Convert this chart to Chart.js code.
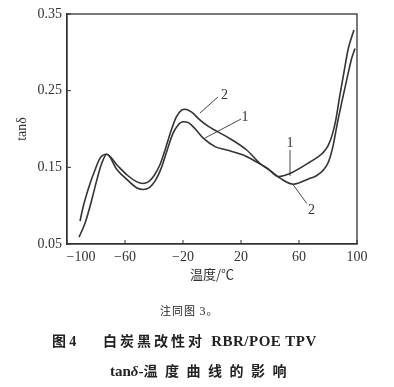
<!DOCTYPE html>
<html>
<head>
<meta charset="utf-8">
<script src="https://cdn.jsdelivr.net/npm/chart.js@4/dist/chart.umd.min.js"></script>
<style>
  html, body { margin: 0; padding: 0; background: #fff; }
  #wrap { position: relative; width: 394px; height: 387px; overflow: hidden; }
  #c { position: absolute; left: 0; top: 0; }
  .cap { position: absolute; white-space: nowrap; color: #222; line-height: 1; }
  .cjk { font-family: "Noto Sans CJK SC", sans-serif; }
  .ser { font-family: "Liberation Serif", "DejaVu Serif", serif; }
</style>
</head>
<body>
<div id="wrap">
  <canvas id="c" width="394" height="387"></canvas>
  <div class="cap cjk" style="left:160px;top:305px;font-size:11px;letter-spacing:1px;">注同图 <span class="ser" style="font-size:12px">3</span>。</div>
  <div class="cap cjk" style="left:52px;top:333px;font-size:14px;font-weight:bold;">图 <span class="ser">4</span></div>
  <div class="cap cjk" style="left:103px;top:333px;font-size:14px;font-weight:bold;letter-spacing:3px;">白炭黑改性对 <span class="ser" style="font-size:15px;letter-spacing:0.5px;">RBR/POE TPV</span></div>
  <div class="cap cjk" style="left:110px;top:363px;font-size:14px;font-weight:bold;letter-spacing:7.5px;"><span class="ser" style="font-size:15px;letter-spacing:0">tan<i>δ</i>-</span>温度曲线的影响</div>
</div>
<script>
// ---- data ----
const temp1 = [-91.7, -87.6, -83.0, -79.5, -76.1, -72.6, -65.5, -58.6, -51.7, -47.4, -43.0, -39.0, -35.0, -31.0, -27.0, -23.5, -20.0, -16.0, -12.0, -6.0, 2.1, 10.1, 21.6, 30.8, 38.0, 45.7, 53.8, 67.6, 76.0, 80.0, 83.0, 85.5, 88.0, 91.0, 94.0, 97.9];
const tan1  = [0.059, 0.077, 0.107, 0.133, 0.155, 0.167, 0.147, 0.134, 0.123, 0.121, 0.124, 0.133, 0.149, 0.172, 0.194, 0.205, 0.2095, 0.208, 0.201, 0.188, 0.177, 0.1726, 0.166, 0.157, 0.149, 0.138, 0.142, 0.157, 0.168, 0.178, 0.193, 0.213, 0.242, 0.274, 0.305, 0.329];
const temp2 = [-91.0, -88.8, -84.1, -80.7, -77.2, -72.6, -65.5, -58.6, -51.7, -47.8, -44.0, -40.0, -36.0, -32.0, -28.0, -24.5, -21.0, -18.6, -14.0, -9.0, -3.0, 10.1, 23.9, 33.1, 40.0, 46.9, 56.1, 67.6, 72.0, 77.0, 80.5, 83.5, 86.4, 89.4, 92.9, 96.3, 98.6];
const tan2  = [0.080, 0.099, 0.129, 0.1465, 0.162, 0.167, 0.153, 0.140, 0.131, 0.129, 0.131, 0.139, 0.153, 0.175, 0.199, 0.216, 0.2245, 0.2257, 0.222, 0.213, 0.204, 0.190, 0.1726, 0.155, 0.146, 0.136, 0.128, 0.1357, 0.139, 0.147, 0.158, 0.178, 0.207, 0.234, 0.264, 0.292, 0.305];
const xTicks = [-100, -60, -20, 20, 60, 100];
const yTicks = [0.05, 0.15, 0.25, 0.35];
const seriesLabels = ["1", "2"];

const toPts = (xs, ys) => xs.map((x, i) => ({ x: x, y: ys[i] }));
const ink = '#333';
const serif = '"Liberation Serif", "DejaVu Serif", serif';

// frame, inward ticks and curve labels with leader lines
const extras = {
  id: 'extras',
  afterDatasetsDraw(chart) {
    const { ctx, chartArea: a, scales: { x, y } } = chart;
    ctx.save();
    ctx.strokeStyle = ink;
    ctx.lineWidth = 1.3;
    ctx.strokeRect(a.left, a.top, a.right - a.left, a.bottom - a.top);
    ctx.lineWidth = 1;
    ctx.beginPath();
    yTicks.forEach(v => { const py = y.getPixelForValue(v); ctx.moveTo(a.left, py); ctx.lineTo(a.left + 4, py); });
    xTicks.forEach(v => { const px = x.getPixelForValue(v); ctx.moveTo(px, a.bottom); ctx.lineTo(px, a.bottom - 4); });
    ctx.stroke();
    // leader lines (data coordinates)
    const leaders = [
      [4.1, 0.2417, -8.3, 0.2209],
      [20.0, 0.213, -4.8, 0.1883],
      [53.8, 0.1726, 53.8, 0.1387],
      [56.1, 0.127, 65.3, 0.103]
    ];
    ctx.lineWidth = 0.9;
    ctx.beginPath();
    leaders.forEach(l => {
      ctx.moveTo(x.getPixelForValue(l[0]), y.getPixelForValue(l[1]));
      ctx.lineTo(x.getPixelForValue(l[2]), y.getPixelForValue(l[3]));
    });
    ctx.stroke();
    const tags = [
      [seriesLabels[1], 8.6, 0.244],
      [seriesLabels[0], 22.8, 0.2157],
      [seriesLabels[0], 53.8, 0.1812],
      [seriesLabels[1], 68.6, 0.0944]
    ];
    ctx.fillStyle = ink;
    ctx.font = '14px ' + serif;
    ctx.textAlign = 'center';
    ctx.textBaseline = 'middle';
    tags.forEach(t => ctx.fillText(t[0], x.getPixelForValue(t[1]), y.getPixelForValue(t[2])));
    ctx.restore();
  }
};

new Chart(document.getElementById('c'), {
  type: 'line',
  data: {
    datasets: [
      { label: seriesLabels[0], data: toPts(temp1, tan1) },
      { label: seriesLabels[1], data: toPts(temp2, tan2) }
    ]
  },
  options: {
    responsive: false,
    animation: false,
    devicePixelRatio: 1,
    layout: { padding: { left: 0, right: 37, top: 14, bottom: 105 } },
    elements: {
      point: { radius: 0 },
      line: { borderColor: ink, borderWidth: 1.6, cubicInterpolationMode: 'monotone', fill: false }
    },
    plugins: { legend: { display: false }, tooltip: { enabled: false } },
    scales: {
      x: {
        type: 'linear', min: -100, max: 100,
        afterBuildTicks: s => { s.ticks = xTicks.map(v => ({ value: v })); },
        afterFit: s => { s.height = 38; },
        grid: { display: false, drawTicks: false },
        border: { display: true, color: ink, width: 1.3 },
        ticks: {
          color: '#333', padding: 5, maxRotation: 0, autoSkip: false,
          font: { family: serif, size: 14 },
          callback: v => (v === -100 ? '\u2002\u2002\u2002\u2002' : '') + (v < 0 ? '\u2212' + Math.abs(v) : String(v))
        },
        title: { display: true, text: '温度/℃', color: '#333', padding: { top: 0, bottom: 0 },
                 font: { family: '"Noto Sans CJK SC", sans-serif', size: 13 } }
      },
      y: {
        type: 'linear', min: 0.05, max: 0.35,
        afterBuildTicks: s => { s.ticks = yTicks.map(v => ({ value: v })); },
        afterFit: s => { s.width = 67; },
        grid: { display: false, drawTicks: false },
        border: { display: true, color: ink, width: 1.3 },
        ticks: { color: '#333', padding: 5, font: { family: serif, size: 14 }, callback: v => v.toFixed(2) },
        title: { display: true, text: 'tanδ', color: '#333', padding: { top: 14, bottom: 0 },
                 font: { family: serif, size: 14 } }
      }
    }
  },
  plugins: [extras]
});
</script>
</body>
</html>
